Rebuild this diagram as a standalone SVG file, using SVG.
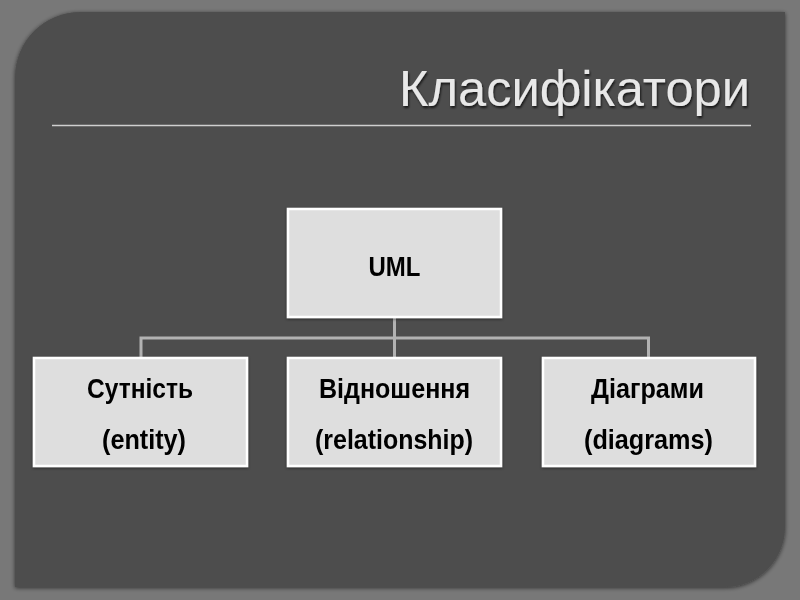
<svg xmlns="http://www.w3.org/2000/svg" width="800" height="600" viewBox="0 0 800 600">
<defs>
<style>
.box{fill:#dedede;stroke:#ffffff;stroke-width:2.5}
.lbl{font-family:"Liberation Sans",Arial,sans-serif;font-weight:bold;font-size:27px;fill:#000;text-anchor:middle}
.conn{fill:none;stroke:#b2b2b2;stroke-width:3}
.title{font-family:"Liberation Sans",Arial,sans-serif;font-size:50px;fill:#e8e8e8;text-anchor:end}
</style>
<filter id="psh" x="-5%" y="-5%" width="110%" height="110%">
<feGaussianBlur in="SourceAlpha" stdDeviation="2"/>
<feOffset dx="0" dy="1" result="b"/>
<feFlood flood-color="#000" flood-opacity="0.6"/>
<feComposite in2="b" operator="in"/>
<feMerge><feMergeNode/><feMergeNode in="SourceGraphic"/></feMerge>
</filter>
<filter id="tsh" x="-5%" y="-20%" width="110%" height="140%">
<feGaussianBlur in="SourceAlpha" stdDeviation="1.2"/>
<feOffset dx="1" dy="1.5" result="b"/>
<feFlood flood-color="#000" flood-opacity="0.7"/>
<feComposite in2="b" operator="in"/>
<feMerge><feMergeNode/><feMergeNode in="SourceGraphic"/></feMerge>
</filter>
<filter id="bsh" x="-5%" y="-5%" width="110%" height="115%">
<feGaussianBlur in="SourceAlpha" stdDeviation="1.5"/>
<feOffset dx="0" dy="1" result="b"/>
<feFlood flood-color="#000" flood-opacity="0.5"/>
<feComposite in2="b" operator="in"/>
<feMerge><feMergeNode/><feMergeNode in="SourceGraphic"/></feMerge>
</filter>
</defs>
<rect x="0" y="0" width="800" height="600" fill="#787878"/>
<path d="M80,12 H785 V527 A60,60 0 0 1 725,587 H15 V77 A65,65 0 0 1 80,12 Z" fill="#4d4d4d" filter="url(#psh)"/>
<text class="title" x="750" y="106" textLength="351" lengthAdjust="spacingAndGlyphs" filter="url(#tsh)">Класифікатори</text>
<line x1="52" y1="125.5" x2="751" y2="125.5" stroke="#cfcfcf" stroke-width="1.5"/>
<g id="connectors">
<path class="conn" d="M394.5,317 V338"/>
<path class="conn" d="M141,358 V338 H648.5 V358"/>
<path class="conn" d="M394.5,338 V358"/>
</g>
<g id="uml" filter="url(#bsh)">
<rect class="box" x="288" y="209" width="213" height="108"/>
<text class="lbl" x="394.5" y="276" textLength="52" lengthAdjust="spacingAndGlyphs">UML</text>
</g>
<g id="entity" filter="url(#bsh)">
<rect class="box" x="34" y="358" width="213" height="108"/>
<text class="lbl" x="140" y="398" textLength="106" lengthAdjust="spacingAndGlyphs">Сутність</text>
<text class="lbl" x="144" y="449" textLength="84" lengthAdjust="spacingAndGlyphs">(entity)</text>
</g>
<g id="relationship" filter="url(#bsh)">
<rect class="box" x="288" y="358" width="213" height="108"/>
<text class="lbl" x="394.5" y="398" textLength="151" lengthAdjust="spacingAndGlyphs">Відношення</text>
<text class="lbl" x="394" y="449" textLength="158" lengthAdjust="spacingAndGlyphs">(relationship)</text>
</g>
<g id="diagrams" filter="url(#bsh)">
<rect class="box" x="543" y="358" width="212" height="108"/>
<text class="lbl" x="647.5" y="398" textLength="113" lengthAdjust="spacingAndGlyphs">Діаграми</text>
<text class="lbl" x="648.5" y="449" textLength="129" lengthAdjust="spacingAndGlyphs">(diagrams)</text>
</g>
</svg>
